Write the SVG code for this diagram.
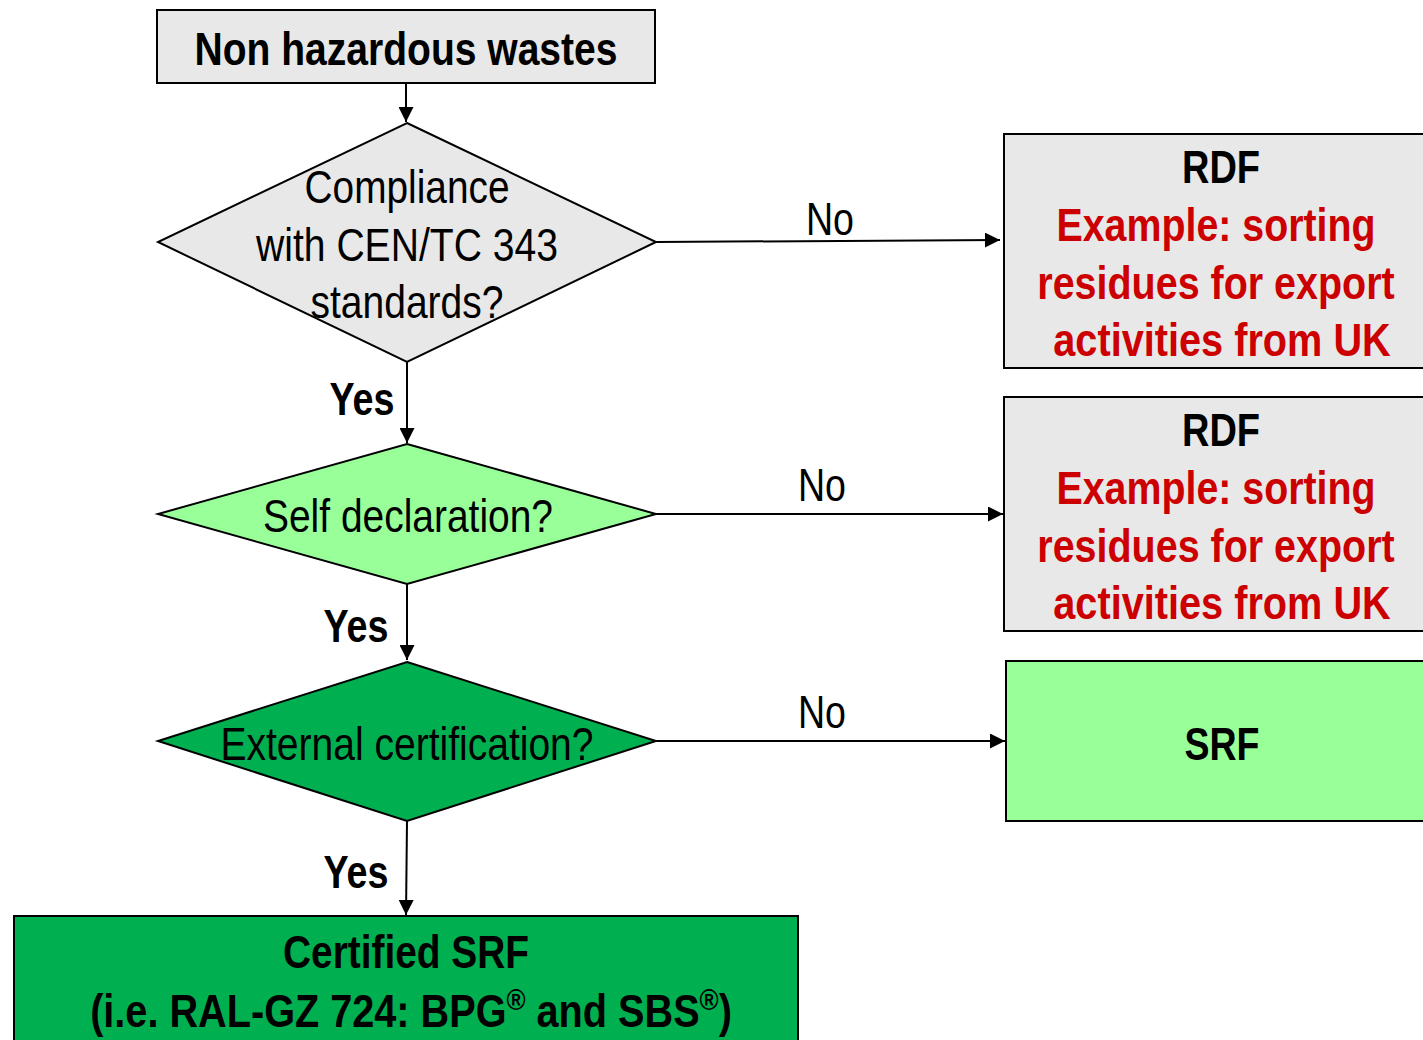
<svg xmlns="http://www.w3.org/2000/svg" width="1423" height="1040" viewBox="0 0 1423 1040">
  <style>
    text { font-family: "Liberation Sans Narrow", "Liberation Sans", Arial, sans-serif; text-anchor: middle; }
    .b { font-weight: bold; }
    .t { font-size: 46px; fill: #000; }
    .red { fill: #cc0000; }
    .shape { stroke: #000; stroke-width: 2; }
    .grey { fill: #e8e8e8; }
    .lgreen { fill: #99ff99; }
    .dgreen { fill: #00b050; }
    .conn { stroke: #000; stroke-width: 2; fill: none; marker-end: url(#arrow); }
  </style>
  <defs>
    <marker id="arrow" viewBox="0 0 10 10" refX="10" refY="5" markerWidth="15" markerHeight="15" markerUnits="userSpaceOnUse" orient="auto">
      <path d="M0,0 L10,5 L0,10 Z" fill="#000"/>
    </marker>
  </defs>
  <rect width="1423" height="1040" fill="#fff"/>

  <g id="connectors">
    <line class="conn" x1="406" y1="83" x2="406" y2="122"/>
    <line class="conn" x1="656" y1="242" x2="1000" y2="240"/>
    <line class="conn" x1="407" y1="362" x2="407" y2="443"/>
    <line class="conn" x1="656" y1="514" x2="1003" y2="514"/>
    <line class="conn" x1="407" y1="584" x2="407" y2="660"/>
    <line class="conn" x1="656" y1="741" x2="1005" y2="741"/>
    <line class="conn" x1="407" y1="821" x2="406" y2="915"/>
    <text class="t" x="830" y="235" textLength="48" lengthAdjust="spacingAndGlyphs">No</text>
    <text class="t" x="822" y="501" textLength="48" lengthAdjust="spacingAndGlyphs">No</text>
    <text class="t" x="822" y="728" textLength="48" lengthAdjust="spacingAndGlyphs">No</text>
    <text class="t b" x="362" y="415" textLength="65" lengthAdjust="spacingAndGlyphs">Yes</text>
    <text class="t b" x="356" y="642" textLength="65" lengthAdjust="spacingAndGlyphs">Yes</text>
    <text class="t b" x="356" y="888" textLength="65" lengthAdjust="spacingAndGlyphs">Yes</text>
  </g>

  <g id="start">
    <rect class="shape grey" x="157" y="10" width="498" height="73"/>
    <text class="t b" x="406" y="65" textLength="423" lengthAdjust="spacingAndGlyphs">Non hazardous wastes</text>
  </g>

  <g id="q-compliance">
    <polygon class="shape grey" points="407,123 656,242 407,362 158,242"/>
    <text class="t" x="407" y="203" textLength="205" lengthAdjust="spacingAndGlyphs">Compliance</text>
    <text class="t" x="407" y="261" textLength="302" lengthAdjust="spacingAndGlyphs">with CEN/TC 343</text>
    <text class="t" x="407" y="318" textLength="193" lengthAdjust="spacingAndGlyphs">standards?</text>
  </g>

  <g id="rdf-1">
    <rect class="shape grey" x="1004" y="134" width="430" height="234"/>
    <text class="t b" x="1221" y="183" textLength="78" lengthAdjust="spacingAndGlyphs">RDF</text>
    <text class="t b red" transform="translate(1216 241) scale(0.855 1)">Example: sorting</text>
    <text class="t b red" transform="translate(1216 299) scale(0.858 1)">residues for export</text>
    <text class="t b red" transform="translate(1222 356) scale(0.863 1)">activities from UK</text>
  </g>

  <g id="q-self">
    <polygon class="shape lgreen" points="407,444 656,514 407,584 158,514"/>
    <text class="t" x="408" y="532" textLength="290" lengthAdjust="spacingAndGlyphs">Self declaration?</text>
  </g>

  <g id="rdf-2">
    <rect class="shape grey" x="1004" y="397" width="430" height="234"/>
    <text class="t b" x="1221" y="446" textLength="78" lengthAdjust="spacingAndGlyphs">RDF</text>
    <text class="t b red" transform="translate(1216 504) scale(0.855 1)">Example: sorting</text>
    <text class="t b red" transform="translate(1216 562) scale(0.858 1)">residues for export</text>
    <text class="t b red" transform="translate(1222 619) scale(0.863 1)">activities from UK</text>
  </g>

  <g id="q-external">
    <polygon class="shape dgreen" points="407,662 656,741 407,821 158,741"/>
    <text class="t" x="407" y="760" textLength="373" lengthAdjust="spacingAndGlyphs">External certification?</text>
  </g>

  <g id="srf">
    <rect class="shape lgreen" x="1006" y="661" width="430" height="160"/>
    <text class="t b" x="1222" y="760" textLength="75" lengthAdjust="spacingAndGlyphs">SRF</text>
  </g>

  <g id="certified-srf">
    <rect class="shape dgreen" x="14" y="916" width="784" height="140"/>
    <text class="t b" x="406" y="968" textLength="246" lengthAdjust="spacingAndGlyphs">Certified SRF</text>
    <text class="t b" transform="translate(411 1027) scale(0.862 1)">(i.e. RAL-GZ 724: BPG<tspan font-size="30" dy="-17">®</tspan><tspan dy="17"> and SBS</tspan><tspan font-size="30" dy="-17">®</tspan><tspan dy="17">)</tspan></text>
  </g>
</svg>
